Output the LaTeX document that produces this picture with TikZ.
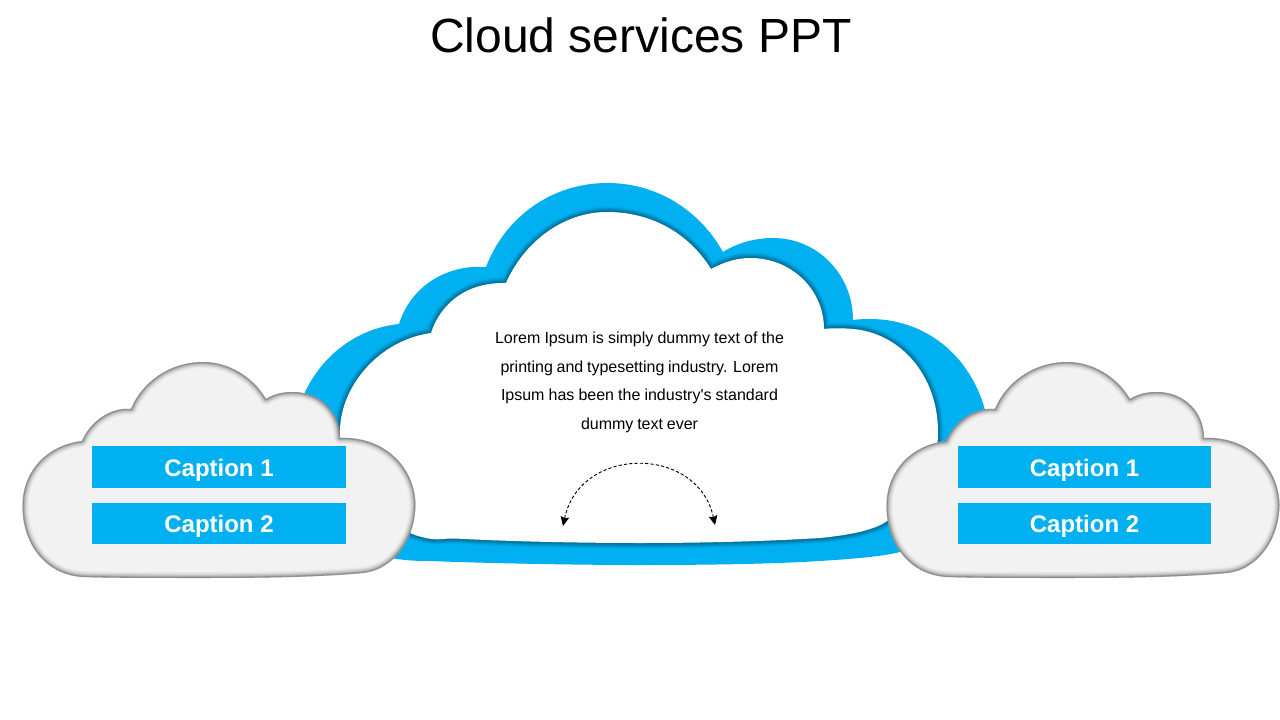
\documentclass[tikz,border=0pt]{standalone}
\usepackage{fontspec}
\setmainfont{Liberation Sans}
\newfontfamily\plainfont{Liberation Sans}
\usetikzlibrary{arrows.meta}
\definecolor{skyblue}{HTML}{00B0F0}
\definecolor{paleGrey}{HTML}{F2F2F2}
\definecolor{deepTeal}{HTML}{00506F}
\definecolor{edgeGrey}{HTML}{666666}
\newcommand{\outerCloud}{(430,561) .. controls (400,561) and (300,560) .. (298,440) .. controls (296,420) and (300,402) .. (306,390) .. controls (325,352) and (360,328) .. (399,324) .. controls (410,288) and (445,264) .. (486,267) .. controls (505,217) and (552,183) .. (607,183) .. controls (655,183) and (698,208) .. (723,252) .. controls (737,243) and (755,238) .. (773,238) .. controls (817,238) and (853,274) .. (853,320) .. controls (860,319) and (865,319) .. (870,319) .. controls (925,319) and (970,355) .. (985,410) .. controls (990,470) and (960,540) .. (900,552) .. controls (880,557) and (850,559) .. (820,561) .. controls (770,564) and (710,565) .. (640,565) .. controls (570,565) and (480,563) .. (430,561) -- cycle}
\newcommand{\innerCloud}{(410,533) .. controls (370,520) and (340,480) .. (340,430) .. controls (341,385) and (380,340) .. (431,333) .. controls (440,305) and (465,282) .. (506,283) .. controls (525,240) and (565,212) .. (607,212) .. controls (650,212) and (688,232) .. (711,269) .. controls (724,262) and (737,258) .. (750,258) .. controls (792,258) and (824,290) .. (824,329) .. controls (832,328) and (842,328) .. (853,329) .. controls (900,333) and (938,375) .. (938,432) .. controls (938,470) and (920,510) .. (887,521) .. controls (875,530) and (850,535) .. (820,538) .. controls (770,541) and (710,543) .. (640,543) .. controls (570,543) and (500,541) .. (455,538.5) .. controls (448,538) and (440,540) .. (432,539) .. controls (424,538) and (417,536) .. (410,533) -- cycle}
\newcommand{\smallCloud}{(83,577) .. controls (45,575) and (22,543) .. (22.5,505) .. controls (23,470) and (48,445) .. (82,441) .. controls (90,422) and (110,407) .. (131,409) .. controls (142,382) and (170,362) .. (203,362) .. controls (229,362) and (253,377) .. (266,399) .. controls (276,393) and (284,392) .. (293,392) .. controls (320,392) and (340,412) .. (340,438) .. controls (385,436) and (415,468) .. (415.5,505) .. controls (415,540) and (393,570) .. (363,573) .. controls (310,578) and (240,578) .. (197,578) .. controls (160,578) and (110,578) .. (83,577) -- cycle}
\newcommand{\drawSmallCloud}{%
  \fill[paleGrey] \smallCloud;
  \begin{scope}
    \clip \smallCloud;
    \foreach \w/\o in {9/.07,7/.10,5.2/.14,3.6/.22,2/.45}{
      \draw[edgeGrey,line width=\w pt,opacity=\o,line join=round] \smallCloud;
    }
  \end{scope}}
\newcommand{\capText}[1]{\raisebox{-7pt}[0pt][0pt]{#1}}
\tikzset{
  capbox/.style={fill=skyblue,text=white,inner sep=0pt,minimum width=190.2pt,minimum height=31pt,font=\fontsize{18}{21}\bfseries\selectfont}
}
\begin{document}
\begin{tikzpicture}[x=.75pt,y=-.75pt]
\useasboundingbox (0,0) rectangle (1280,720);
\fill[white] (0,0) rectangle (1280,720);
\node[font=\fontsize{36}{40}\selectfont,inner sep=0pt] (title) at (641,35) {Cloud services PPT};
% main cloud
\fill[skyblue] \outerCloud;
\begin{scope}
  \clip \outerCloud;
  \foreach \w/\o in {8/.10,6.5/.13,5/.16,3.5/.20,2/.25}{
    \draw[deepTeal,line width=\w pt,opacity=\o,line join=round] \innerCloud;
  }
\end{scope}
\fill[white] \innerCloud;
% side clouds
\drawSmallCloud
\begin{scope}[shift={(864,0)}]
  \drawSmallCloud
\end{scope}
\node[capbox] (capLa) at (219,467) {\capText{Caption 1}};
\node[capbox] (capLb) at (219,523.5) {\capText{Caption 2}};
\node[capbox] (capRa) at (1084.5,467) {\capText{Caption 1}};
\node[capbox] (capRb) at (1084.5,523.5) {\capText{Caption 2}};
\node[align=center,inner sep=0pt,font=\plainfont\fontsize{12}{21.4}\selectfont] (body) at (639.5,382.5) {%
  \makebox[216.75pt][s]{Lorem Ipsum is simply dummy text of the}\\
  \makebox[208.5pt][s]{printing and typesetting industry. Lorem}\\
  \makebox[207.75pt][s]{Ipsum has been the industry's standard}\\
  \makebox[87.75pt][s]{dummy text ever}};
\coordinate (arcL) at (563,526);
\coordinate (arcR) at (715,525);
\draw[{Stealth[length=7pt,width=6.5pt,inset=1pt]}-{Stealth[length=7pt,width=6.5pt,inset=1pt]},line width=.7pt,dash pattern=on 2.4pt off 1.6pt,black]
  (arcL) .. controls (580,445) and (698,445) .. (arcR);
\end{tikzpicture}
\end{document}
